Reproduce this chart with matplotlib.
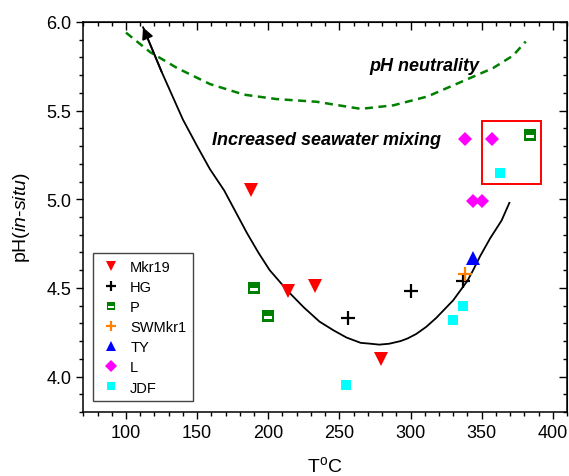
import matplotlib
matplotlib.use('Agg')
import matplotlib.pyplot as plt
from matplotlib.path import Path
from matplotlib.ticker import MultipleLocator
from matplotlib.patches import Rectangle

plt.rcParams['font.family'] = ['Liberation Sans', 'DejaVu Sans']
plt.rcParams['mathtext.fontset'] = 'custom'
plt.rcParams['mathtext.rm'] = 'Liberation Sans'
plt.rcParams['mathtext.it'] = 'Liberation Sans:italic'

# ---------------- data ----------------
mkr19_T = [188, 214, 233, 279]
mkr19_pH = [5.05, 4.48, 4.51, 4.10]
hg_T = [256, 300, 337]
hg_pH = [4.33, 4.48, 4.54]
p_T = [190, 200, 384]
p_pH = [4.50, 4.34, 5.36]
sw_T = [338]
sw_pH = [4.58]
ty_T = [344]
ty_pH = [4.67]
l_T = [338, 344, 350, 357]
l_pH = [5.34, 4.99, 4.99, 5.34]
jdf_T = [255, 330, 337, 363]
jdf_pH = [3.95, 4.32, 4.40, 5.15]

# trend curve (arrow at first point)
curve_T = [112, 125, 140, 150, 159, 169, 177, 185, 193, 201, 214, 225, 236,
           246, 255, 265, 272, 278, 285, 293, 298, 304, 311, 318, 324, 330,
           335, 340, 344, 349, 356, 364, 369.5]
curve_pH = [5.97, 5.72, 5.45, 5.30, 5.17, 5.05, 4.93, 4.81, 4.70, 4.60, 4.48,
            4.39, 4.31, 4.26, 4.22, 4.19, 4.185, 4.18, 4.185, 4.20, 4.215,
            4.24, 4.28, 4.33, 4.38, 4.43, 4.485, 4.54, 4.60, 4.68, 4.78,
            4.88, 4.98]

# pH neutrality curve
neutral_T = [100, 117, 136, 159, 183, 206, 234, 265, 288, 312, 335, 358, 372, 381]
neutral_pH = [5.94, 5.83, 5.74, 5.65, 5.59, 5.565, 5.55, 5.51, 5.53, 5.58,
              5.66, 5.74, 5.81, 5.89]

x_ticks = [100, 150, 200, 250, 300, 350, 400]
y_ticks = [4.0, 4.5, 5.0, 5.5, 6.0]

# ---------------- figure ----------------
fig = plt.figure(figsize=(5.69, 4.77), dpi=100)
ax = fig.add_axes([0.1464, 0.1342, 0.9965 - 0.1464, 0.9518 - 0.1342])

# custom marker for P: square with a white bar (hole)
outer = [(-0.5, -0.5), (0.5, -0.5), (0.5, 0.5), (-0.5, 0.5), (-0.5, -0.5)]
inner = [(-0.32, -0.28), (-0.32, 0.02), (0.32, 0.02), (0.32, -0.28), (-0.32, -0.28)]
codes = [Path.MOVETO, Path.LINETO, Path.LINETO, Path.LINETO, Path.CLOSEPOLY]
p_marker = Path(outer + inner, codes + codes)

# curves
ax.plot(neutral_T, neutral_pH, color='#008000', lw=1.8, linestyle=(0, (3.2, 2.2)), zorder=2)
ax.plot(curve_T, curve_pH, color='black', lw=1.3, zorder=2)
ax.annotate('', xy=(curve_T[0], curve_pH[0]), xytext=(curve_T[1], curve_pH[1]),
            arrowprops=dict(arrowstyle='-|>', color='black', lw=1.3,
                            mutation_scale=17, shrinkA=0, shrinkB=0), zorder=3)

# points
ax.plot(mkr19_T, mkr19_pH, 'v', color='#FF0000', ms=10, mew=0, label='Mkr19', zorder=4)
ax.plot(hg_T, hg_pH, '+', color='black', ms=10, mew=1.6, label='HG', zorder=4)
ax.plot(p_T, p_pH, marker=p_marker, linestyle='none', color='#008000', ms=8.5, mew=0,
        label='P', zorder=4)
ax.plot(sw_T, sw_pH, '+', color='#FF8000', ms=10, mew=1.6, label='SWMkr1', zorder=4)
ax.plot(ty_T, ty_pH, '^', color='#0000FF', ms=10, mew=0, label='TY', zorder=4)
ax.plot(l_T, l_pH, 'D', color='#FF00FF', ms=7.5, mew=0, label='L', zorder=4)
ax.plot(jdf_T, jdf_pH, 's', color='#00FFFF', ms=7.5, mew=0, label='JDF', zorder=4)

# red box
ax.add_patch(Rectangle((350, 5.088), 42, 0.354, fill=False, edgecolor='#FF0000',
                       lw=1.4, zorder=3))

# texts
ax.text(310, 5.755, 'pH neutrality', fontsize=13, fontweight='bold', style='italic',
        ha='center', va='center')
ax.text(241, 5.338, 'Increased seawater mixing', fontsize=13, fontweight='bold',
        style='italic', ha='center', va='center')

# axes
ax.set_xlim(70, 410)
ax.set_ylim(3.8, 6.0)
ax.set_xticks(x_ticks)
ax.set_yticks(y_ticks)
ax.set_yticklabels([f'{v:.1f}' for v in y_ticks])
ax.xaxis.set_minor_locator(MultipleLocator(10))
ax.yaxis.set_minor_locator(MultipleLocator(0.1))
ax.tick_params(which='both', direction='out', labelsize=13, width=1.0)
ax.tick_params(which='major', length=5)
ax.tick_params(which='minor', length=3)
for s in ax.spines.values():
    s.set_linewidth(1.1)

secx = ax.secondary_xaxis('top')
secx.set_xticks(x_ticks)
secx.xaxis.set_minor_locator(MultipleLocator(10))
secx.tick_params(which='both', direction='in', labeltop=False, width=1.0)
secx.tick_params(which='major', length=6)
secx.tick_params(which='minor', length=3)
secy = ax.secondary_yaxis('right')
secy.set_yticks(y_ticks)
secy.yaxis.set_minor_locator(MultipleLocator(0.1))
secy.tick_params(which='both', direction='in', labelright=False, width=1.0)
secy.tick_params(which='major', length=6)
secy.tick_params(which='minor', length=3)

ax.set_xlabel(r'T$^{\mathrm{o}}$C', fontsize=14, labelpad=10)
ax.set_ylabel(r'pH($\mathit{in}$-$\mathit{situ}$)', fontsize=14, labelpad=10)

leg = ax.legend(loc='lower left', bbox_to_anchor=(0.02, 0.028), fontsize=10.5,
                frameon=True, fancybox=False, edgecolor='#444444', framealpha=1,
                borderpad=0.45, labelspacing=0.42, handlelength=1.6,
                handletextpad=0.5, markerscale=0.75, borderaxespad=0)
leg.get_frame().set_linewidth(1.0)

fig.savefig('out.png', dpi=100)
